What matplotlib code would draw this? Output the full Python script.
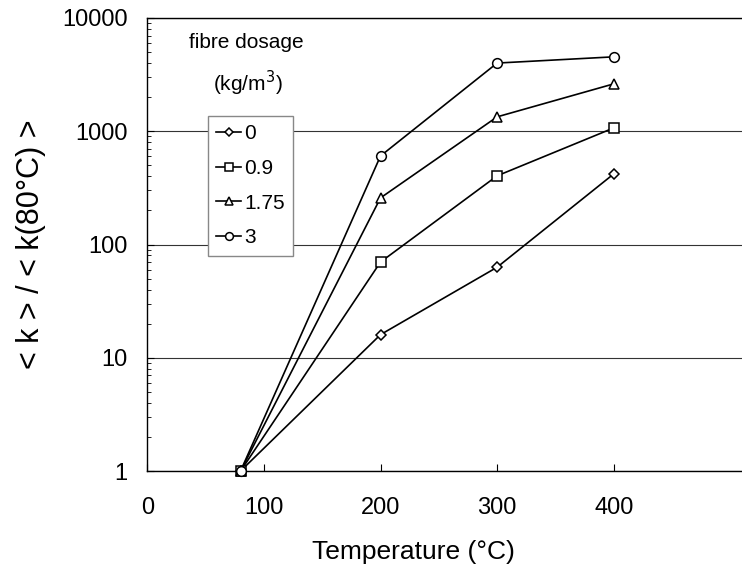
import numpy as np
import matplotlib.pyplot as plt
from matplotlib.ticker import LogLocator, NullFormatter

plt.rcParams['font.family'] = ['Liberation Sans', 'DejaVu Sans']

# Temperatura (°C)
temperatura = [80, 200, 300, 400]

# Valores relativos <k>/<k(80°C)> para cada dosificación de fibra
k_0 = [1, 16, 63, 420]
k_09 = [1, 70, 404, 1070]
k_175 = [1, 258, 1340, 2620]
k_3 = [1, 605, 4000, 4540]

series = [k_0, k_09, k_175, k_3]
etiquetas = ['0', '0.9', '1.75', '3']
marcadores = ['D', 's', '^', 'o']
tamanos = [5, 7, 7, 7]

fig = plt.figure(figsize=(7.42, 5.73), dpi=100)
ax = fig.add_axes([147.3 / 742, 102 / 573, 1 - 147.3 / 742, (471 - 18) / 573])

for valores, etq, m, ms in zip(series, etiquetas, marcadores, tamanos):
    ax.plot(temperatura, valores, color='black', lw=1.2, marker=m, ms=ms,
            mfc='white', mec='black', mew=1.1, label=etq, clip_on=False, zorder=3)

ax.set_yscale('log')
ax.set_ylim(1, 10000)
ax.set_xlim(0, 510)

ax.set_yticks([1, 10, 100, 1000, 10000])
ax.set_yticklabels(['1', '10', '100', '1000', '10000'])
ax.yaxis.set_minor_locator(LogLocator(base=10, subs=np.arange(2, 10)))
ax.yaxis.set_minor_formatter(NullFormatter())
ax.set_xticks([0, 100, 200, 300, 400])

ax.tick_params(axis='both', which='major', direction='in', length=5, labelsize=17,
               width=0.8)
ax.tick_params(axis='x', pad=19)
ax.tick_params(axis='y', pad=14)
ax.tick_params(axis='y', which='minor', direction='in', length=3, width=0.6)

ax.grid(True, which='major', axis='y', color='#333333', lw=0.8)
ax.spines['right'].set_visible(False)
for s in ['left', 'top', 'bottom']:
    ax.spines[s].set_linewidth(1.0)

ax.set_xlabel('Temperature (°C)', fontsize=19)
ax.xaxis.set_label_coords(0.447, -0.153)
ax.set_ylabel('< k > / < k(80°C) >', fontsize=22, labelpad=12)

# Título de la leyenda
ax.text(246 / 742, 531 / 573, 'fibre dosage', transform=fig.transFigure,
        ha='center', va='center', fontsize=15)
ax.text(248 / 742, 490 / 573, '(kg/m$^3$)', transform=fig.transFigure,
        ha='center', va='center', fontsize=15)

leg = ax.legend(loc='upper left', bbox_to_anchor=(208 / 742, 457 / 573),
                bbox_transform=fig.transFigure, fontsize=15, frameon=True,
                fancybox=False, edgecolor='#888888', handlelength=1.2,
                handletextpad=0.15, borderpad=0.4, labelspacing=0.75,
                borderaxespad=0, markerscale=0.8)
leg.get_frame().set_linewidth(1.0)
leg.get_frame().set_alpha(1)

fig.savefig('out.png', dpi=100)
